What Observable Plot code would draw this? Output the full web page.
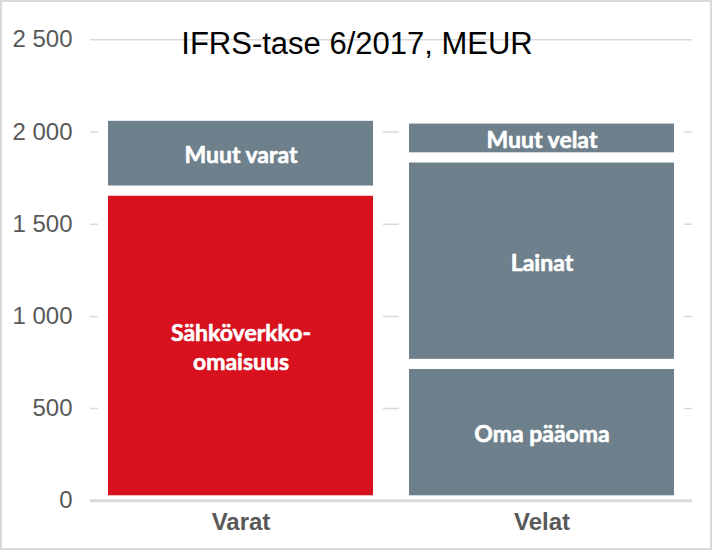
<!DOCTYPE html>
<html>
<head>
<meta charset="utf-8">
<script src="https://cdn.jsdelivr.net/npm/d3@7"></script>
<script src="https://cdn.jsdelivr.net/npm/@observablehq/plot@0.6"></script>
<style>
  html, body { margin: 0; padding: 0; background: #fff; }
  #wrap { position: relative; width: 713px; height: 552px; overflow: hidden; }
  #wrap svg { position: absolute; left: 0; top: 0; }
  #border { position: absolute; left: 0; top: 0; width: 712px; height: 550px; box-sizing: border-box; border: 2px solid #d9d9d9; pointer-events: none; }
</style>
</head>
<body>
<div id="wrap"><div id="border"></div></div>
<script>
const title = "IFRS-tase 6/2017, MEUR";
const categories = ["Varat", "Velat"];
const segments = ["Sähköverkko-omaisuus", "Muut varat", "Oma pääoma", "Lainat", "Muut velat"];
const groups = ["Varat", "Varat", "Velat", "Velat", "Velat"];
const values = [1680, 405, 740, 1120, 210];
const labels = ["Sähköverkko-\nomaisuus", "Muut varat", "Oma pääoma", "Lainat", "Muut velat"];
const segmentColors = ["#d7111e", "#6d808b", "#6d808b", "#6d808b", "#6d808b"];
const yTicks = [0, 500, 1000, 1500, 2000, 2500];

const rows = segments.map((s, i) => ({group: groups[i], segment: s, value: values[i], label: labels[i]}));
const fmt = d => d3.format(",")(d).replace(/,/g, "\u00a0");

const chart = Plot.plot({
  width: 713,
  height: 552,
  marginLeft: 90,
  marginRight: 21,
  marginTop: 39.3,
  marginBottom: 51.7,
  style: {fontFamily: "'Liberation Sans', Arial, sans-serif", background: "transparent"},
  x: {domain: categories, paddingInner: 0.086, paddingOuter: 0.043, label: null},
  y: {domain: [0, 2500], label: null},
  color: {domain: segments, range: segmentColors},
  marks: [
    Plot.ruleY(yTicks.filter(d => d > 0), {stroke: "#d9d9d9", strokeWidth: 1.5}),
    Plot.barY(rows, Plot.stackY({x: "group", y: "value", fill: "segment", stroke: "white", strokeWidth: 10})),
    Plot.ruleY([0], {stroke: "#d9d9d9", strokeWidth: 3}),
    Plot.text(rows, Plot.stackY({x: "group", y: "value", text: "label", fill: "white", fontWeight: "bold",
      fontSize: 23, fontFamily: "Lato, 'Open Sans', sans-serif", lineHeight: 1.3,
      stroke: "white", strokeWidth: 0.6})),
    Plot.axisY({ticks: yTicks, tickFormat: fmt, tickSize: 0, tickPadding: 18, fontSize: 24, fill: "#595959", label: null}),
    Plot.axisX({tickSize: 0, tickPadding: 12, fontSize: 24, fontWeight: "bold", fill: "#595959", label: null}),
    Plot.text([title], {frameAnchor: "top", dx: -34.5, dy: 14, lineAnchor: "bottom", fontSize: 31, fill: "#000"})
  ]
});
document.getElementById("wrap").insertBefore(chart, document.getElementById("border"));
</script>
</body>
</html>
